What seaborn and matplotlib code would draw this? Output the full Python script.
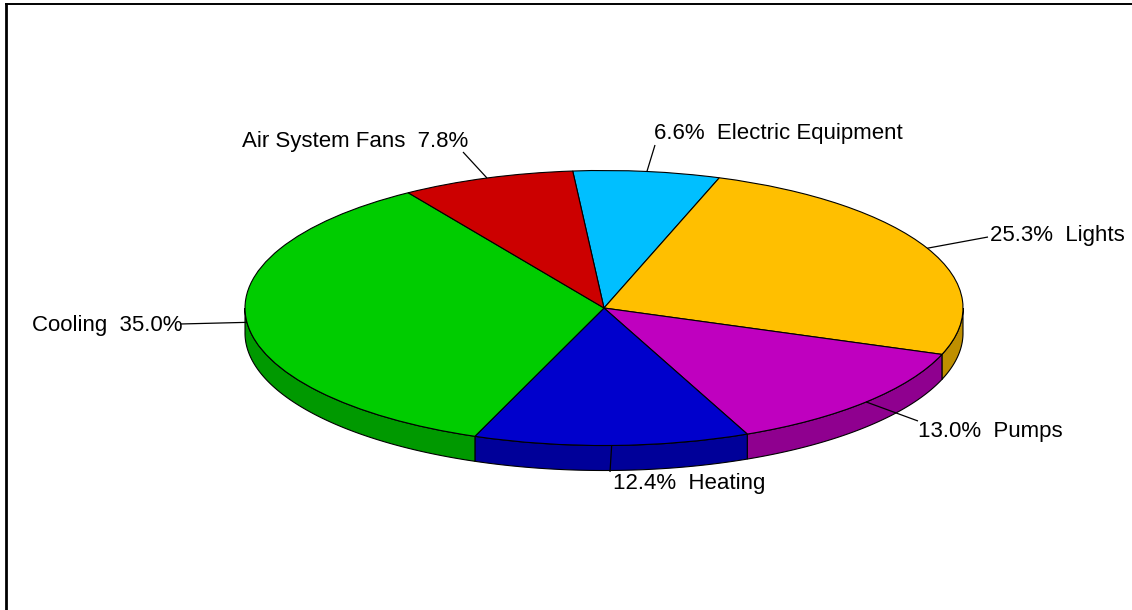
import numpy as np
import matplotlib
matplotlib.use('Agg')
import matplotlib.pyplot as plt
from matplotlib.patches import Polygon
import seaborn as sns

# ---- data ----
categories = ['Electric Equipment', 'Lights', 'Pumps', 'Heating', 'Cooling', 'Air System Fans']
shares = [6.6, 25.3, 13.0, 12.4, 35.0, 7.8]
top_colors = ['#00BFFF', '#FFBF00', '#BF00BF', '#0000CC', '#00CC00', '#CC0000']
side_colors = ['#008FBF', '#BF8F00', '#8F008F', '#000099', '#009900', '#990000']
name_first = [False, False, False, False, True, True]

# ---- layout (pixels in the 1132x610 canvas) ----
label_pos = [(654, 133), (990, 236), (918, 431), (613, 484), (182, 325), (468, 141)]
leader_end = [(655, 145), (988, 237), (918, 421), (610, 472), (180, 324), (463, 152)]
label_ha = ['left', 'left', 'left', 'left', 'right', 'right']

sns.set_theme(style='white')
plt.rcParams['font.family'] = ['Liberation Sans', 'DejaVu Sans']

W, H = 1132, 610
fig = plt.figure(figsize=(W / 100, H / 100), dpi=100)
L, T = 6, 4
ax = fig.add_axes([L / W, 0, 1 - L / W, (H - T) / H])

CX, CY, RX, RY, DEPTH = 604, 308, 359, 137.5, 25


def to_data(px, py):
    return (px - CX) / RX, (CY - py) / RY


d = DEPTH / RY

wedges, _ = ax.pie(shares, colors=top_colors, startangle=95, counterclock=False,
                   radius=1, wedgeprops=dict(edgecolor='black', linewidth=0.8, zorder=3))

# side walls (visible front half)
for w, sc in zip(wedges, side_colors):
    t1, t2 = w.theta1, w.theta2
    for k in range(-2, 3):
        a = max(t1, 180 + 360 * k)
        b = min(t2, 360 + 360 * k)
        if b - a > 0.01:
            th = np.radians(np.linspace(a, b, 200))
            xs = np.cos(th)
            ys = np.sin(th)
            pts = np.concatenate([np.column_stack([xs, ys]),
                                  np.column_stack([xs[::-1], ys[::-1] - d])])
            ax.add_patch(Polygon(pts, closed=True, facecolor=sc, edgecolor='black',
                                 linewidth=0.8, zorder=2))

# labels with leader lines
for w, name, val, nf, lp, le, ha in zip(wedges, categories, shares, name_first,
                                        label_pos, leader_end, label_ha):
    mid = np.radians((w.theta1 + w.theta2) / 2)
    x0, y0 = np.cos(mid), np.sin(mid)
    x1, y1 = to_data(*le)
    ax.plot([x0, x1], [y0, y1], color='black', lw=0.9, zorder=4, solid_capstyle='butt')
    txt = f'{name}  {val:.1f}%' if nf else f'{val:.1f}%  {name}'
    tx, ty = to_data(*lp)
    ax.text(tx, ty, txt, ha=ha, va='center', fontsize=16, color='black', zorder=5)

ax.set_aspect('auto')
x_lo, _ = to_data(L, 0)
x_hi, _ = to_data(W, 0)
_, y_hi = to_data(0, T)
_, y_lo = to_data(0, H)
ax.set_xlim(x_lo, x_hi)
ax.set_ylim(y_lo, y_hi)
ax.set_frame_on(True)
ax.axis('on')
ax.set_xticks([])
ax.set_yticks([])
for s in ['right', 'bottom']:
    ax.spines[s].set_visible(False)
ax.spines['left'].set_linewidth(2.0)
ax.spines['top'].set_linewidth(1.4)
ax.spines['left'].set_color('black')
ax.spines['top'].set_color('black')

fig.savefig('out.png', dpi=100)
